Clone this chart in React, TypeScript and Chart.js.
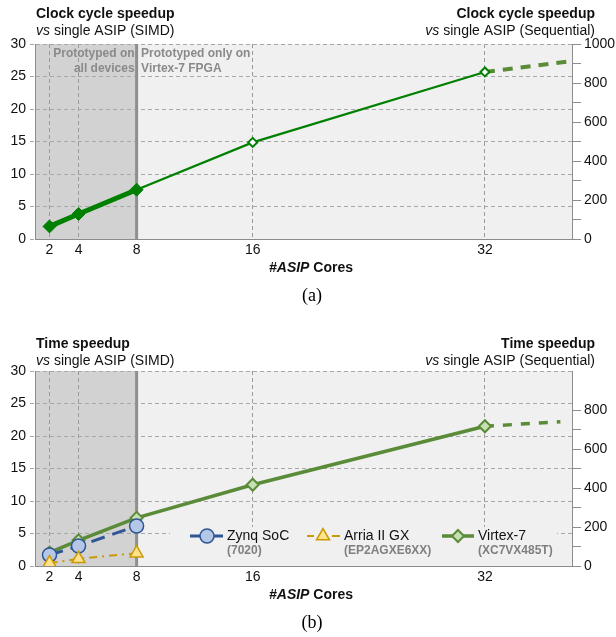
import React, { useEffect, useRef } from 'react';
import { Chart, registerables } from 'chart.js';

Chart.register(...registerables);

// ---------- shared axis data ----------
const coreTicks = [2, 4, 8, 16, 32];
const xMin = 1;
const xMax = 38;
const boundaryCore = 8;
const leftMin = 0;
const leftMax = 30;
const leftStep = 5;
const rightMin = 0;
const rightMax = 1000;
const rightStep = 100;
const rightLabelStep = 200;

// ---------- panel (a): clock cycle speedup ----------
const cycleCoresThick = [2, 4, 8];
const cycleThick = [1.94, 3.85, 7.58];
const cycleCoresThin = [8, 16, 32];
const cycleThin = [7.58, 14.86, 25.7];
const cycleExtCores = [32, 37.7];
const cycleExt = [25.7, 27.3];

// ---------- panel (b): time speedup ----------
const zynqCores = [2, 4, 8];
const zynqTime = [1.7, 3.08, 6.15];
const arriaCores = [2, 4, 8];
const arriaTime = [0.45, 1.1, 1.98];
const virtexCores = [2, 4, 8, 16, 32];
const virtexTime = [2.05, 3.95, 7.4, 12.5, 21.5];
const virtexExtCores = [32, 37.2];
const virtexExt = [21.5, 22.2];

const legendNames = ['Zynq SoC', 'Arria II GX', 'Virtex-7'];
const legendParts = ['(7020)', '(EP2AGXE6XX)', '(XC7VX485T)'];

const FONT = "'Liberation Sans', Arial, Helvetica, sans-serif";
const SERIF = "'Liberation Serif', 'Times New Roman', serif";

const GREEN = '#008000';
const OLIVE = '#5a8b38';
const BLUE = '#2f5597';
const GOLD = '#c99a06';

const pts = (xs: number[], ys: number[]) => xs.map((x, i) => ({ x, y: ys[i] }));

function drawMixed(ctx: CanvasRenderingContext2D, parts: [string, string][], x: number, y: number, align: 'left' | 'right' | 'center') {
  let total = 0;
  const widths = parts.map(([font, text]) => {
    ctx.font = font;
    const w = ctx.measureText(text).width;
    total += w;
    return w;
  });
  let cx = align === 'left' ? x : align === 'right' ? x - total : x - total / 2;
  ctx.textAlign = 'left';
  parts.forEach(([font, text], i) => {
    ctx.font = font;
    ctx.fillText(text, cx, y);
    cx += widths[i];
  });
}

function makeScales(rightLabelMax: number) {
  return {
    x: {
      type: 'linear',
      min: xMin,
      max: xMax,
      afterBuildTicks: (s: any) => {
        s.ticks = coreTicks.map((v) => ({ value: v }));
      },
      afterFit: (s: any) => {
        s.height = 20;
      },
      ticks: {
        autoSkip: false,
        maxRotation: 0,
        padding: 3,
        color: '#111',
        font: { family: FONT, size: 14 },
        callback: (v: any) => String(v),
      },
      grid: {
        drawTicks: false,
        color: (c: any) => (c.tick && c.tick.value === boundaryCore ? 'rgba(0,0,0,0)' : '#9a9a9a'),
      },
      border: { color: '#8c8c8c', dash: [4, 3] },
    },
    y: {
      position: 'left',
      min: leftMin,
      max: leftMax,
      afterFit: (s: any) => {
        s.width = 35;
      },
      ticks: {
        stepSize: leftStep,
        autoSkip: false,
        padding: 4,
        color: '#111',
        font: { family: FONT, size: 14 },
      },
      grid: {
        color: '#a8a8a8',
        tickLength: 5,
        tickColor: '#a8a8a8',
        tickBorderDash: [4, 3],
      },
      border: { color: '#8c8c8c', dash: [4, 3] },
    },
    y2: {
      position: 'right',
      min: rightMin,
      max: rightMax,
      afterFit: (s: any) => {
        s.width = 44;
      },
      ticks: {
        stepSize: rightStep,
        autoSkip: false,
        padding: 3,
        color: '#111',
        font: { family: FONT, size: 14 },
        callback: (v: any) => (v > rightLabelMax ? null : v % rightLabelStep === 0 ? String(v) : ''),
      },
      grid: {
        drawOnChartArea: false,
        drawTicks: true,
        tickLength: 9,
        color: '#8c8c8c',
      },
      border: { color: '#8c8c8c' },
    },
  };
}

type PanelText = {
  leftTitle: string;
  rightTitle: string;
  leftSub: string;
  rightSub: string;
  titleY: number;
  subY: number;
  caption: string;
  annotate: boolean;
  legend: boolean;
};

function makePlugin(t: PanelText) {
  return {
    id: 'panelDecor',
    beforeDraw(chart: any) {
      const { ctx, chartArea } = chart;
      const { top, bottom, left, right } = chartArea;
      const x8 = chart.scales.x.getPixelForValue(boundaryCore);
      ctx.save();
      ctx.fillStyle = '#d2d2d2';
      ctx.fillRect(left, top, x8 - left, bottom - top);
      ctx.fillStyle = '#f0f0f0';
      ctx.fillRect(x8, top, right - x8, bottom - top);
      ctx.restore();
    },
    beforeDatasetsDraw(chart: any) {
      const { ctx, chartArea } = chart;
      const { top, bottom } = chartArea;
      const x8 = chart.scales.x.getPixelForValue(boundaryCore);
      ctx.save();
      if (t.legend) {
        ctx.fillStyle = '#f0f0f0';
        ctx.fillRect(170, bottom - 21, 387, 20);
        ctx.fillRect(170, bottom - 39, 387, 20);
      }
      ctx.strokeStyle = '#8f8f8f';
      ctx.lineWidth = 3;
      ctx.beginPath();
      ctx.moveTo(x8, top);
      ctx.lineTo(x8, bottom);
      ctx.stroke();
      ctx.restore();
    },
    afterDraw(chart: any) {
      const { ctx, chartArea } = chart;
      const { top, bottom, left } = chartArea;
      const x8 = chart.scales.x.getPixelForValue(boundaryCore);
      ctx.save();
      ctx.fillStyle = '#111';
      ctx.textBaseline = 'alphabetic';
      // titles
      drawMixed(ctx, [[`bold 14px ${FONT}`, t.leftTitle]], 36, t.titleY, 'left');
      drawMixed(ctx, [[`italic 14px ${FONT}`, 'vs'], [`14px ${FONT}`, t.leftSub]], 36, t.subY, 'left');
      drawMixed(ctx, [[`bold 14px ${FONT}`, t.rightTitle]], 595, t.titleY, 'right');
      drawMixed(ctx, [[`italic 14px ${FONT}`, 'vs'], [`14px ${FONT}`, t.rightSub]], 595, t.subY, 'right');
      // axis title
      ctx.textBaseline = 'middle';
      drawMixed(ctx, [[`italic bold 14px ${FONT}`, '#ASIP'], [`bold 14px ${FONT}`, ' Cores']], 311, bottom + 29.5, 'center');
      // caption
      ctx.fillStyle = '#000';
      drawMixed(ctx, [[`18px ${SERIF}`, t.caption]], 312, bottom + 57.5, 'center');

      if (t.annotate) {
        ctx.fillStyle = '#8a8a8a';
        ctx.font = `bold 12px ${FONT}`;
        ctx.textAlign = 'right';
        ctx.fillText('Prototyped on', x8 - 2, top + 10);
        ctx.fillText('all devices', x8 - 2, top + 25);
        ctx.textAlign = 'left';
        ctx.fillText('Prototyped only on', x8 + 4.5, top + 10);
        ctx.fillText('Virtex-7 FPGA', x8 + 4.5, top + 25);
      }

      if (t.legend) {
        const ly = bottom - 30;
        const sy = bottom - 15.5;
        // Zynq
        ctx.lineWidth = 3;
        ctx.strokeStyle = BLUE;
        ctx.beginPath();
        ctx.moveTo(190, ly);
        ctx.lineTo(223, ly);
        ctx.stroke();
        ctx.fillStyle = '#b4c7e7';
        ctx.lineWidth = 1.5;
        ctx.beginPath();
        ctx.arc(207, ly, 7, 0, Math.PI * 2);
        ctx.fill();
        ctx.stroke();
        // Arria
        ctx.strokeStyle = GOLD;
        ctx.lineWidth = 2;
        ctx.beginPath();
        ctx.moveTo(307, ly);
        ctx.lineTo(314, ly);
        ctx.moveTo(332, ly);
        ctx.lineTo(340, ly);
        ctx.stroke();
        ctx.fillStyle = '#ffe28a';
        ctx.lineWidth = 1.5;
        const r = 7.5;
        ctx.beginPath();
        ctx.moveTo(323, ly - r);
        ctx.lineTo(323 + r * Math.sin((2 * Math.PI) / 3), ly + r / 2);
        ctx.lineTo(323 - r * Math.sin((2 * Math.PI) / 3), ly + r / 2);
        ctx.closePath();
        ctx.fill();
        ctx.stroke();
        // Virtex
        ctx.strokeStyle = OLIVE;
        ctx.lineWidth = 3.5;
        ctx.beginPath();
        ctx.moveTo(442, ly);
        ctx.lineTo(474, ly);
        ctx.stroke();
        ctx.fillStyle = '#c6e0b4';
        ctx.lineWidth = 2;
        const d = 6;
        ctx.beginPath();
        ctx.moveTo(458, ly - d);
        ctx.lineTo(458 + d, ly);
        ctx.lineTo(458, ly + d);
        ctx.lineTo(458 - d, ly);
        ctx.closePath();
        ctx.fill();
        ctx.stroke();
        // labels
        const lx = [227, 344, 478];
        ctx.textAlign = 'left';
        ctx.textBaseline = 'middle';
        legendNames.forEach((n, i) => {
          ctx.fillStyle = '#111';
          ctx.font = `14px ${FONT}`;
          ctx.fillText(n, lx[i], ly);
          ctx.fillStyle = '#7f7f7f';
          ctx.font = `bold 12px ${FONT}`;
          ctx.fillText(legendParts[i], lx[i], sy);
        });
      }
      ctx.restore();
    },
  };
}

function buildA() {
  return {
    type: 'line',
    data: {
      datasets: [
        {
          data: pts(cycleCoresThick, cycleThick),
          borderColor: GREEN,
          borderWidth: 5,
          pointStyle: 'rectRot',
          pointRadius: 6.5,
          pointBackgroundColor: GREEN,
          pointBorderColor: GREEN,
          pointBorderWidth: 1,
          order: 0,
        },
        {
          data: pts(cycleCoresThin, cycleThin),
          borderColor: GREEN,
          borderWidth: 2.2,
          pointStyle: 'rectRot',
          pointRadius: [0, 4.5, 4.5],
          pointBackgroundColor: '#ffffff',
          pointBorderColor: GREEN,
          pointBorderWidth: 2,
          order: 1,
        },
        {
          data: pts(cycleExtCores, cycleExt),
          borderColor: OLIVE,
          borderWidth: 4,
          borderDash: [10, 8],
          pointRadius: 0,
          order: 2,
        },
      ],
    },
    options: {
      responsive: false,
      animation: false,
      events: [],
      layout: { padding: { top: 44, bottom: 68, left: 0, right: 0 } },
      plugins: { legend: { display: false }, tooltip: { enabled: false } },
      scales: makeScales(1000),
    },
    plugins: [
      makePlugin({
        leftTitle: 'Clock cycle speedup',
        rightTitle: 'Clock cycle speedup',
        leftSub: ' single ASIP (SIMD)',
        rightSub: ' single ASIP (Sequential)',
        titleY: 18.3,
        subY: 35,
        caption: '(a)',
        annotate: true,
        legend: false,
      }),
    ],
  };
}

function buildB() {
  return {
    type: 'line',
    data: {
      datasets: [
        {
          label: legendNames[1],
          data: pts(arriaCores, arriaTime),
          borderColor: GOLD,
          borderWidth: 2,
          borderDash: [8, 5, 2, 5],
          pointStyle: 'triangle',
          pointRadius: 7.5,
          pointBackgroundColor: '#ffe28a',
          pointBorderColor: GOLD,
          pointBorderWidth: 1.5,
          order: 0,
        },
        {
          label: legendNames[0],
          data: pts(zynqCores, zynqTime),
          borderColor: BLUE,
          borderWidth: 3,
          borderDash: [14, 8],
          pointStyle: 'circle',
          pointRadius: 7,
          pointBackgroundColor: '#b4c7e7',
          pointBorderColor: BLUE,
          pointBorderWidth: 1.5,
          order: 1,
        },
        {
          label: legendNames[2],
          data: pts(virtexCores, virtexTime),
          borderColor: OLIVE,
          borderWidth: 3.5,
          pointStyle: 'rectRot',
          pointRadius: 6,
          pointBackgroundColor: '#c6e0b4',
          pointBorderColor: OLIVE,
          pointBorderWidth: 2,
          order: 2,
        },
        {
          data: pts(virtexExtCores, virtexExt),
          borderColor: OLIVE,
          borderWidth: 3.5,
          borderDash: [9, 9],
          pointRadius: 0,
          order: 3,
        },
      ],
    },
    options: {
      responsive: false,
      animation: false,
      events: [],
      layout: { padding: { top: 44, bottom: 51, left: 0, right: 0 } },
      plugins: { legend: { display: false }, tooltip: { enabled: false } },
      scales: makeScales(800),
    },
    plugins: [
      makePlugin({
        leftTitle: 'Time speedup',
        rightTitle: 'Time speedup',
        leftSub: ' single ASIP (SIMD)',
        rightSub: ' single ASIP (Sequential)',
        titleY: 21,
        subY: 37.6,
        caption: '(b)',
        annotate: false,
        legend: true,
      }),
    ],
  };
}

function Panel({ build, height }: { build: () => any; height: number }) {
  const ref = useRef<HTMLCanvasElement | null>(null);
  useEffect(() => {
    if (!ref.current) return;
    const chart = new Chart(ref.current, build());
    return () => chart.destroy();
  }, []);
  return <canvas ref={ref} width={616} height={height} style={{ display: 'block', width: 616, height }} />;
}

export default function App() {
  useEffect(() => {
    document.body.style.margin = '0';
    document.body.style.background = '#ffffff';
  }, []);
  return (
    <div style={{ width: 616, height: 637, background: '#fff' }}>
      <Panel build={buildA} height={327} />
      <Panel build={buildB} height={310} />
    </div>
  );
}
